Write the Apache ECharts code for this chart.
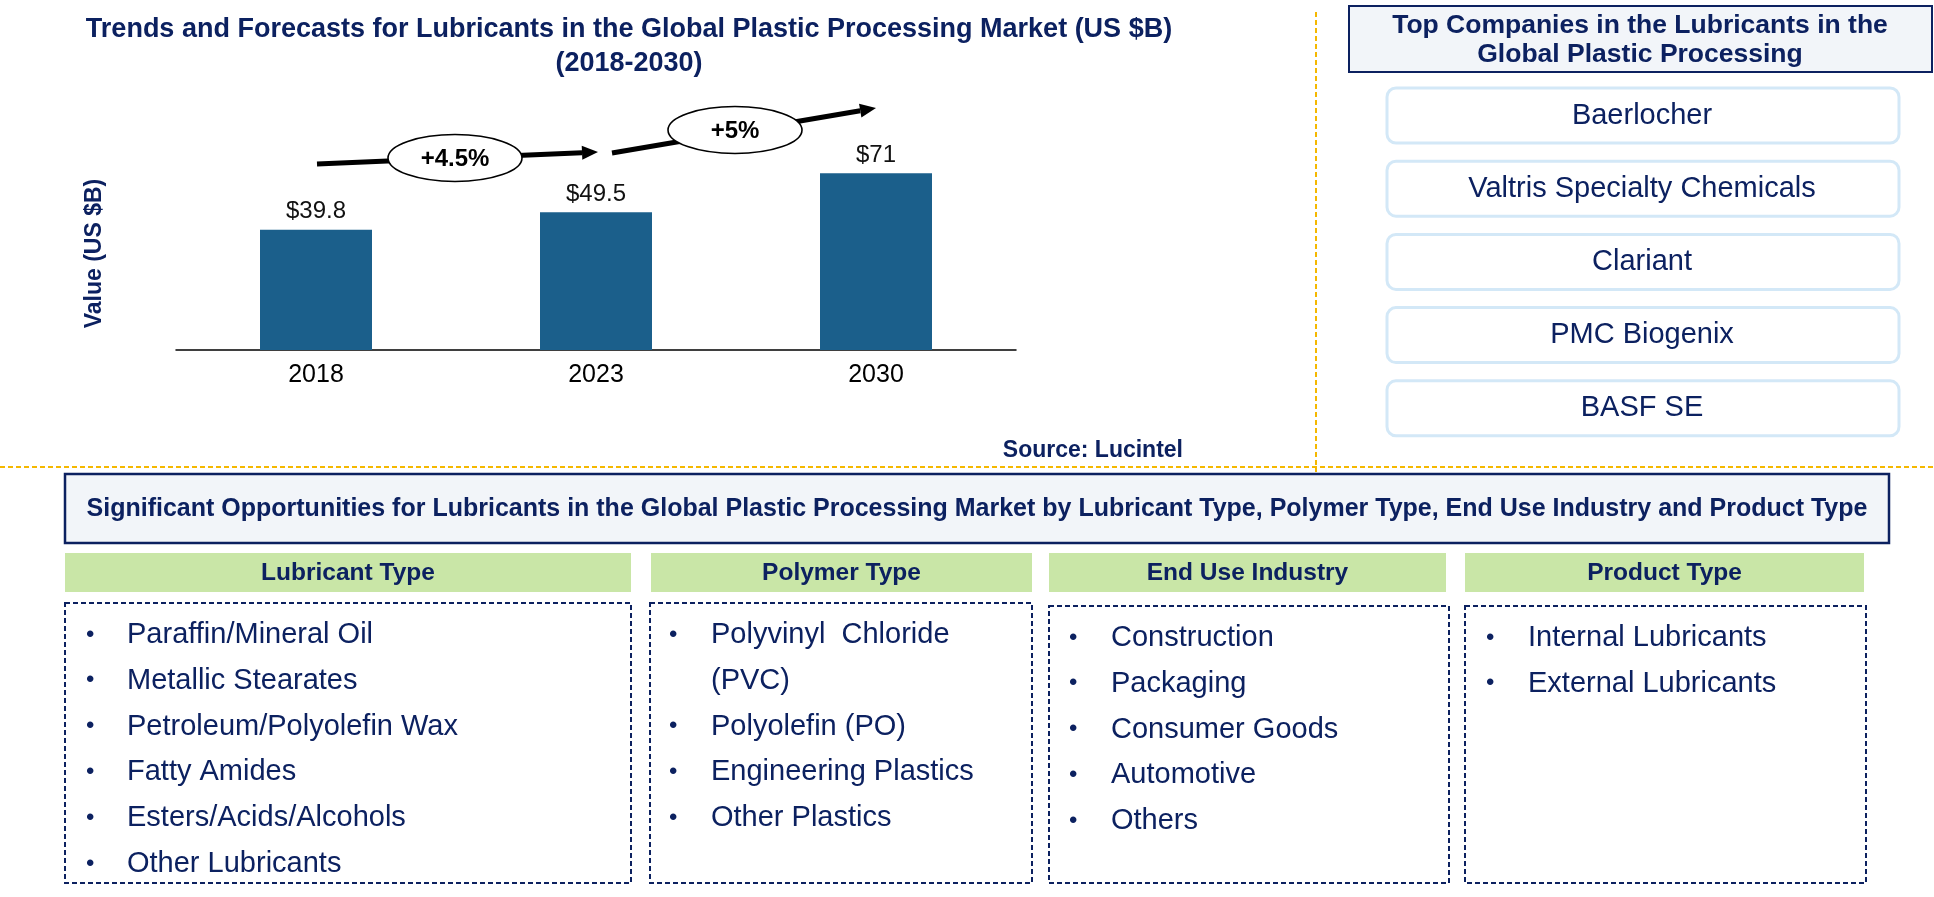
<!DOCTYPE html>
<html>
<head>
<meta charset="utf-8">
<style>
html,body{margin:0;padding:0;background:#fff;}
#chart{width:1934px;height:897px;}
</style>
<script src="https://cdn.jsdelivr.net/npm/echarts@6.0.0/dist/echarts.min.js"></script>
</head>
<body>
<div id="chart"></div>
<script>
// ---- data ----
var years = ['2018', '2023', '2030'];
var marketValues = [39.8, 49.5, 71];
var cagrLabels = ['+4.5%', '+5%'];
var companies = ['Baerlocher', 'Valtris Specialty Chemicals', 'Clariant', 'PMC Biogenix', 'BASF SE'];
var segmentTitles = ['Lubricant Type', 'Polymer Type', 'End Use Industry', 'Product Type'];
var lubricantTypes = ['Paraffin/Mineral Oil', 'Metallic Stearates', 'Petroleum/Polyolefin Wax', 'Fatty Amides', 'Esters/Acids/Alcohols', 'Other Lubricants'];
var polymerTypes = [['Polyvinyl  Chloride', '(PVC)'], 'Polyolefin (PO)', 'Engineering Plastics', 'Other Plastics'];
var endUseIndustries = ['Construction', 'Packaging', 'Consumer Goods', 'Automotive', 'Others'];
var productTypes = ['Internal Lubricants', 'External Lubricants'];

var FONT = '"Liberation Sans", Arial, Helvetica, sans-serif';
var NAVY = '#0c2160';
var ORANGE = '#f5b800';

var chart = echarts.init(document.getElementById('chart'), null, {renderer: 'canvas'});
var g = [];

function txt(x, y, s, size, weight, color, align, extra) {
  var o = {type: 'text', z: 10, style: {x: x, y: y, text: s, font: (weight || 'normal') + ' ' + size + 'px ' + FONT,
    fill: color || NAVY, textAlign: align || 'left', textVerticalAlign: 'middle'}};
  if (extra) for (var k in extra) o.style[k] = extra[k];
  return o;
}

// titles
g.push(txt(629, 30, 'Trends and Forecasts for Lubricants in the Global Plastic Processing Market (US $B)', 27, 'bold', NAVY, 'center'));
g.push(txt(629, 64, '(2018-2030)', 27, 'bold', NAVY, 'center'));
g.push(txt(1183, 451, 'Source: Lucintel', 23, 'bold', NAVY, 'right'));

// dashed separators
g.push({type: 'line', shape: {x1: 0, y1: 467, x2: 1934, y2: 467}, style: {stroke: ORANGE, lineWidth: 2, lineDash: [5, 3]}});
g.push({type: 'line', shape: {x1: 1316, y1: 12, x2: 1316, y2: 472}, style: {stroke: ORANGE, lineWidth: 2, lineDash: [5, 3]}});

// CAGR arrows
function arrow(x1, y1, x2, y2) {
  var dx = x2 - x1, dy = y2 - y1, L = Math.sqrt(dx * dx + dy * dy);
  var ux = dx / L, uy = dy / L, px = -uy, py = ux;
  var bx = x2 - 16 * ux, by = y2 - 16 * uy;
  g.push({type: 'line', z: 3, shape: {x1: x1, y1: y1, x2: bx, y2: by}, style: {stroke: '#000', lineWidth: 5}});
  g.push({type: 'polygon', z: 3, shape: {points: [[x2, y2], [bx + 7 * px, by + 7 * py], [bx - 7 * px, by - 7 * py]]}, style: {fill: '#000'}});
}
arrow(317, 164, 598, 152);
arrow(612, 153, 876, 108);
function bubble(cx, cy, s) {
  g.push({type: 'ellipse', z: 5, shape: {cx: cx, cy: cy, rx: 67, ry: 23.5}, style: {fill: '#fff', stroke: '#000', lineWidth: 1.6}});
  g.push(txt(cx, cy + 1, s, 24, 'bold', '#000', 'center'));
}
bubble(455, 158, cagrLabels[0]);
bubble(735, 130, cagrLabels[1]);

// Top companies panel
g.push({type: 'rect', shape: {x: 1349, y: 6, width: 583, height: 66}, style: {fill: '#f2f5f9', stroke: NAVY, lineWidth: 2}});
g.push(txt(1640, 26, 'Top Companies in the Lubricants in the', 26.5, 'bold', NAVY, 'center'));
g.push(txt(1640, 55, 'Global Plastic Processing', 26.5, 'bold', NAVY, 'center'));
companies.forEach(function (c, i) {
  var y = 88 + i * 73.2;
  g.push({type: 'rect', shape: {x: 1387, y: y, width: 512, height: 55, r: 9}, style: {fill: '#fff', stroke: '#d3e8f7', lineWidth: 3}});
  g.push(txt(1642, y + 27.5, c, 29, 'normal', NAVY, 'center'));
});

// Opportunities header
g.push({type: 'rect', shape: {x: 65, y: 474, width: 1824, height: 69}, style: {fill: '#f2f5f9', stroke: NAVY, lineWidth: 2.5}});
g.push(txt(977, 509, 'Significant Opportunities for Lubricants in the Global Plastic Processing Market by Lubricant Type, Polymer Type, End Use Industry and Product Type', 25, 'bold', NAVY, 'center'));

var cols = [
  {x1: 65, x2: 631, bx1: 65, bx2: 631, by: 603, bullet: 86, text: 127, y0: 635, items: lubricantTypes},
  {x1: 651, x2: 1032, bx1: 650, bx2: 1032, by: 603, bullet: 669, text: 711, y0: 635, items: polymerTypes},
  {x1: 1049, x2: 1446, bx1: 1049, bx2: 1449, by: 606, bullet: 1069, text: 1111, y0: 638, items: endUseIndustries},
  {x1: 1465, x2: 1864, bx1: 1465, bx2: 1866, by: 606, bullet: 1486, text: 1528, y0: 638, items: productTypes}
];
var PITCH = 45.8;
cols.forEach(function (c, ci) {
  g.push({type: 'rect', shape: {x: c.x1, y: 553, width: c.x2 - c.x1, height: 39}, style: {fill: '#c9e6a7'}});
  g.push(txt((c.x1 + c.x2) / 2, 573, segmentTitles[ci], 24.5, 'bold', NAVY, 'center'));
  g.push({type: 'rect', shape: {x: c.bx1, y: c.by, width: c.bx2 - c.bx1, height: 883 - c.by}, style: {fill: 'none', stroke: NAVY, lineWidth: 2, lineDash: [5, 3]}});
  var line = 0;
  c.items.forEach(function (it) {
    var lines = Array.isArray(it) ? it : [it];
    var y = c.y0 + line * PITCH;
    g.push(txt(c.bullet, y, '\u2022', 24, 'normal', NAVY, 'left'));
    lines.forEach(function (l, li) {
      g.push(txt(c.text, c.y0 + (line + li) * PITCH, l, 29, 'normal', NAVY, 'left'));
    });
    line += lines.length;
  });
});

var option = {
  animation: false,
  backgroundColor: '#fff',
  grid: {left: 176, width: 840, top: 157, bottom: 547, containLabel: false},
  xAxis: {
    type: 'category', data: years,
    axisLine: {onZero: false, lineStyle: {color: '#000', width: 1.5}},
    axisTick: {show: false},
    axisLabel: {fontFamily: FONT, fontSize: 25, color: '#000', margin: 13}
  },
  yAxis: {
    type: 'value', min: -26.7, max: 80, startValue: -26.7,
    name: 'Value (US $B)', nameLocation: 'middle', nameGap: 70,
    nameTextStyle: {fontFamily: FONT, fontSize: 23, fontWeight: 'bold', color: NAVY},
    axisLine: {show: false}, axisTick: {show: false}, axisLabel: {show: false}, splitLine: {show: false}
  },
  series: [{
    type: 'bar', data: marketValues, barWidth: 112,
    itemStyle: {color: '#1b5f8b'},
    label: {show: true, position: 'top', distance: 6, fontFamily: FONT, fontSize: 24, color: '#111',
      formatter: function (p) { return '$' + p.value; }}
  }],
  graphic: g
};
chart.setOption(option);
</script>
</body>
</html>
